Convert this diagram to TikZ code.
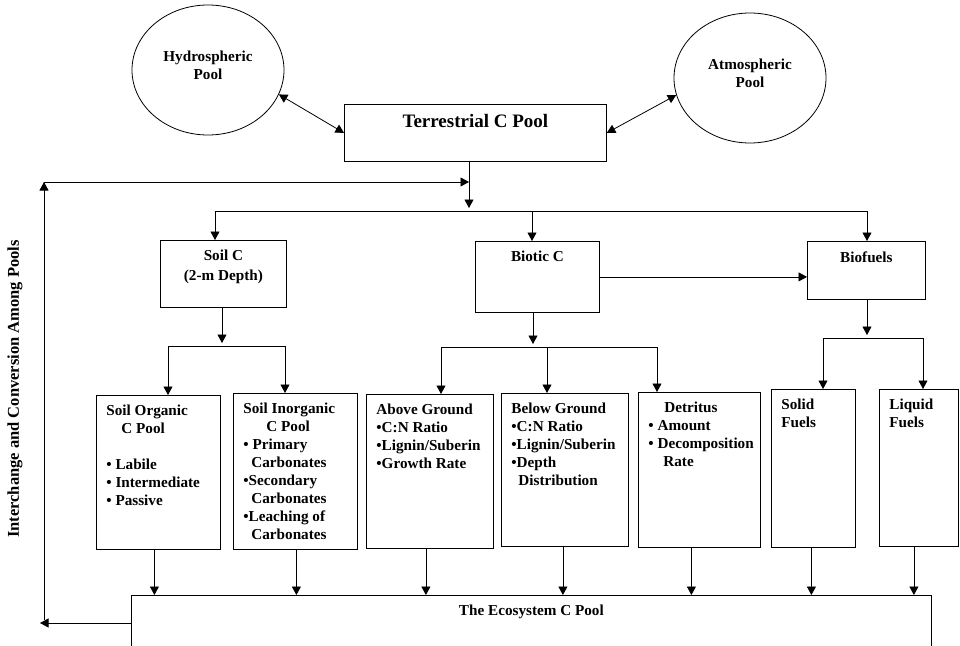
\documentclass[tikz,border=0pt]{standalone}
\usepackage{fontspec}
\setmainfont{Liberation Serif}
\usetikzlibrary{shapes.geometric,arrows.meta}
\newcommand{\boxtxt}[3]{\begin{minipage}[t][#2][t]{#1}#3\end{minipage}}

\begin{document}
\begin{tikzpicture}[x=1pt,y=-1pt,line width=0.8pt,
    tip/.style={-{Triangle[length=8.5pt,width=9pt]}},
    both/.style={{Triangle[length=8.5pt,width=9pt]}-{Triangle[length=8.5pt,width=9pt]}},
    pool/.style={rectangle,draw,anchor=north west,inner xsep=10pt,inner ysep=10pt,font=\bfseries\fontsize{15.2}{18}\selectfont},
    sphere/.style={ellipse,draw,minimum width=152pt,minimum height=130pt,inner sep=0pt,
        label={[align=center,yshift=5pt,font=\bfseries\fontsize{15.2}{18}\selectfont]center:#1}}]
    \clip (0,0) rectangle (960,645);

    \node [sphere={Hydrospheric\\Pool}] (hydro) at (208,70) {};
    \node [sphere={Atmospheric\\Pool}] (atmo) at (750,78) {};
    \node [pool] (terr) at (344,104) {\boxtxt{242pt}{37pt}{\centering\fontsize{19}{22}\selectfont Terrestrial C Pool}};

    \node [pool] (soilc) at (160,240) {\boxtxt{106pt}{47pt}{\centering\baselineskip=20pt Soil C\\(2-m Depth)}};
    \node [pool] (biotic) at (475,241) {\boxtxt{104pt}{51pt}{\centering Biotic C}};
    \node [pool] (biof) at (807,241) {\boxtxt{98pt}{38pt}{\centering Biofuels}};

    \node [pool] (soilorg) at (96,395) {\boxtxt{104pt}{134pt}{\raggedright Soil Organic\\\hspace*{15pt}C Pool\\[18pt]•~Labile\\•~Intermediate\\•~Passive}};
    \node [pool] (soilinorg) at (233,393) {\boxtxt{104pt}{136pt}{\raggedright Soil~Inorganic\\\hspace*{23pt}C Pool\\•~Primary\\\hspace*{8pt}Carbonates\\•Secondary\\\hspace*{8pt}Carbonates\\•Leaching~of\\\hspace*{8pt}Carbonates}};
    \node [pool] (above) at (366,394) {\boxtxt{107pt}{134pt}{\raggedright Above~Ground\\•C:N~Ratio\\•Lignin/Suberin\\•Growth~Rate}};
    \node [pool] (below) at (501,393) {\boxtxt{107pt}{133pt}{\raggedright Below~Ground\\•C:N~Ratio\\•Lignin/Suberin\\•Depth\\\hspace*{7pt}Distribution}};
    \node [pool] (detritus) at (638,392) {\boxtxt{102pt}{135pt}{\raggedright\hspace*{16pt}Detritus\\•~Amount\\\mbox{•~Decomposition}\\\hspace*{15pt}Rate}};
    \node [pool] (solid) at (771,389) {\boxtxt{64pt}{138pt}{\raggedright Solid\\Fuels}};
    \node [pool] (liquid) at (879,389) {\boxtxt{59pt}{137pt}{\raggedright Liquid\\Fuels}};

    \node [pool] (eco) at (131,595) {\boxtxt{780pt}{50pt}{\centering The Ecosystem C Pool}};
    \node [rotate=90,font=\bfseries\fontsize{16.5}{18}\selectfont] (lbl) at (15,389) {Interchange and Conversion Among Pools};

    \draw [both] (hydro.-19) -- (terr.west);
    \draw [both] (terr.east) -- (atmo.193);

    \coordinate (jt) at (469,211);
    \coordinate (ja) at (215,211);
    \coordinate (jb) at (532,211);
    \coordinate (jc) at (867,211);
    \draw [tip,shorten >=3pt] (terr.south -| jt) -- (jt);
    \draw (ja) -- (jc);
    \draw [tip] (ja) -- (ja |- soilc.north);
    \draw [tip] (jb) -- (jb |- biotic.north);
    \draw [tip] (jc) -- (jc |- biof.north);
    \draw [tip] (biotic.east) -- (biotic.east -| biof.west);

    \coordinate (js) at (222,346);
    \coordinate (js1) at (168,346);
    \coordinate (js2) at (285,346);
    \draw [tip,shorten >=3pt] (soilc.south -| js) -- (js);
    \draw (js1) -- (js2);
    \draw [tip] (js1) -- (js1 |- soilorg.north);
    \draw [tip] (js2) -- (js2 |- soilinorg.north);

    \coordinate (jbt) at (533,347);
    \coordinate (jb1) at (441,347);
    \coordinate (jb2) at (547,347);
    \coordinate (jb3) at (657,347);
    \draw [tip,shorten >=3pt] (biotic.south -| jbt) -- (jbt);
    \draw (jb1) -- (jb3);
    \draw [tip] (jb1) -- (jb1 |- above.north);
    \draw [tip] (jb2) -- (jb2 |- below.north);
    \draw [tip] (jb3) -- (jb3 |- detritus.north);

    \coordinate (jf) at (867,338);
    \coordinate (jf1) at (823,338);
    \coordinate (jf2) at (923,338);
    \draw [tip,shorten >=3pt] (biof.south -| jf) -- (jf);
    \draw (jf1) -- (jf2);
    \draw [tip] (jf1) -- (jf1 |- solid.north);
    \draw [tip] (jf2) -- (jf2 |- liquid.north);

    \foreach \n/\s in {soilorg/-4,soilinorg/1,above/-4,below/-2,detritus/-8,solid/-2,liquid/-5} {
        \coordinate (a) at ([xshift=\s pt]\n.south);
        \draw [tip] (a) -- (a |- eco.north);
    }

    \coordinate (fl) at (40,623);
    \coordinate (lb) at (44,620);
    \coordinate (lt) at (44,182);
    \draw [tip] (eco.west |- fl) -- (fl);
    \draw [tip] (lb) -- (lt);
    \draw [tip] (lt) -- (lt -| jt);
\end{tikzpicture}
\end{document}
